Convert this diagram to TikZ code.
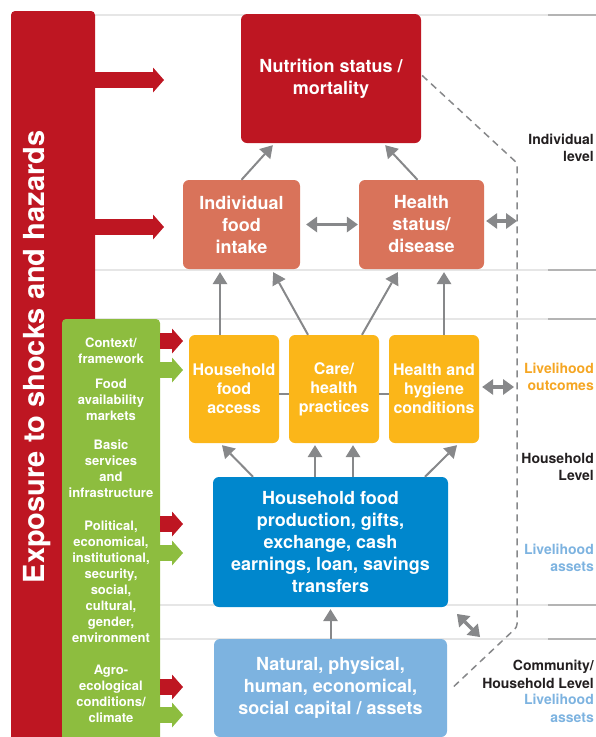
\documentclass[tikz,border=0pt]{standalone}
\usepackage{fontspec}
\setmainfont{TeX Gyre Heros}
\usetikzlibrary{arrows.meta,calc}
\definecolor{darkred}{HTML}{BE1622}
\definecolor{salmon}{HTML}{D9735A}
\definecolor{fyellow}{HTML}{FBB619}
\definecolor{fblue}{HTML}{0087CD}
\definecolor{lblue}{HTML}{7DB3E0}
\definecolor{fgreen}{HTML}{8DBD3F}
\definecolor{fgray}{HTML}{87888A}
\definecolor{forange}{HTML}{F5A623}
\definecolor{lgray}{HTML}{E6E6E6}
\definecolor{mgray}{HTML}{B4B4B4}
\definecolor{ftext}{HTML}{231F20}
\begin{document}
\begin{tikzpicture}[x=1pt, y=-1pt,
    mbox/.style = {rounded corners=6pt,
                   inner sep=0pt,
                   align=center,
                   text=white,
                   font=\bfseries\fontsize{18}{22}\selectfont},
    ybox/.style = {mbox, fill=fyellow,
                   minimum width=90pt,
                   minimum height=108pt,
                   font=\bfseries\fontsize{16}{19}\selectfont},
    gtext/.style = {align=center, text=white, inner sep=0pt,
                    font=\bfseries\fontsize{13}{16}\selectfont},
    ltext/.style = {anchor=east, align=right, inner sep=0pt, text=ftext,
                    font=\bfseries\fontsize{14}{17.5}\selectfont},
    garr/.style = {draw=fgray, line width=2pt,
                   -{Triangle[length=12pt,width=15pt,line width=0pt]}},
    darr/.style = {draw=fgray, line width=3.5pt,
                   {Triangle[length=11pt,width=16pt,line width=0pt]}-{Triangle[length=11pt,width=16pt,line width=0pt]}},
    redarr/.style = {draw=darkred, line width=16pt,
                     -{Triangle[length=11pt,width=25pt,line width=0pt]}},
    grnarr/.style = {redarr, draw=fgreen},
    dline/.style = {draw=fgray, line width=1.5pt, dash pattern=on 7pt off 5pt,
                    rounded corners=3pt},
    band/.style = {line width=1.5pt}]
    \useasboundingbox (0,0) rectangle (596,737);
    \clip (0,0) rectangle (596,737);
    % level bands
    \foreach \y in {15,270,319,605,639} {
        \draw[band, draw=lgray] (95,\y) -- (548,\y);
        \draw[band, draw=mgray] (548,\y) -- (596,\y);
    }
    % exposure bar and context box
    \node[fill=darkred, rounded corners=4pt, inner sep=0pt,
          minimum width=84pt, minimum height=740pt] (bar) at (53,381) {};
    \node[rotate=90, text=white, inner sep=0pt,
          font=\bfseries\fontsize{29}{32}\selectfont] (expo) at (37,357) {Exposure to shocks and hazards};
    \node[fill=fgreen, rounded corners=4pt, inner sep=0pt,
          minimum width=98pt, minimum height=432pt] (ctx) at (111,535) {};
    \node[gtext] (g1) at (111,350.5) {Context/\\framework};
    \node[gtext] (g2) at (111,400) {Food\\availability\\markets};
    \node[gtext] (g3) at (111,469) {Basic\\services\\and\\infrastructure};
    \node[gtext] (g4) at (111,582) {Political,\\economical,\\institutional,\\security,\\social,\\cultural,\\gender,\\environment};
    \node[gtext] (g5) at (111,694) {Agro-\\ecological\\conditions/\\climate};
    % boxes
    \node[mbox, fill=darkred, minimum width=180pt, minimum height=129pt] (nut) at (331,78.5) {Nutrition status /\\mortality};
    \node[mbox, fill=salmon, minimum width=117pt, minimum height=89pt] (intake) at (241.5,224.5) {Individual\\food\\intake};
    \node[mbox, fill=salmon, minimum width=125pt, minimum height=89pt] (health) at (421.5,224.5) {Health\\status/\\disease};
    \node[ybox] (hfa) at (234,389) {Household\\food\\access};
    \node[ybox] (care) at (334,389) {Care/\\health\\practices};
    \node[ybox] (hyg) at (434,389) {Health and\\hygiene\\conditions};
    \node[mbox, fill=fblue, minimum width=235pt, minimum height=130pt] (prod) at (330.5,542) {Household food\\production, gifts,\\exchange, cash\\earnings, loan, savings\\transfers};
    \node[mbox, fill=lblue, minimum width=233pt, minimum height=98pt] (cap) at (330.5,688) {Natural, physical,\\human, economical,\\social capital / assets};
    % level labels
    \node[ltext] (lind) at (594,148) {Individual\\level};
    \node[ltext, text=forange] (lout) at (594,377) {Livelihood\\outcomes};
    \node[ltext] (lhh) at (594,467) {Household\\Level};
    \node[ltext, text=lblue] (lass) at (594,558) {Livelihood\\assets};
    \node[ltext] (lcom) at (594,674.5) {Community/\\Household Level};
    \node[ltext, text=lblue] (lass2) at (594,708.5) {Livelihood\\assets};
    % arrow ends
    \coordinate (r1) at (164,80);
    \coordinate (r2) at (164,227);
    \coordinate (a1) at (183,341);
    \coordinate (a2) at (183,370);
    \coordinate (a3) at (183,524);
    \coordinate (a4) at (183,553);
    \coordinate (a5) at (183,687);
    \coordinate (a6) at (183,715);
    \coordinate (dtop) at (517,163);
    \coordinate (dbot) at (517,627);
    \coordinate (d1) at (517,221);
    \coordinate (d2) at (517,387);
    \coordinate (p1) at (457,614);
    \coordinate (p2) at (480,637);
    % shocks and context
    \draw[redarr] (bar.east |- r1) -- (r1);
    \draw[redarr] (bar.east |- r2) -- (r2);
    \draw[redarr] (ctx.east |- a1) -- (a1);
    \draw[grnarr] (ctx.east |- a2) -- (a2);
    \draw[redarr] (ctx.east |- a3) -- (a3);
    \draw[grnarr] (ctx.east |- a4) -- (a4);
    \draw[redarr] (ctx.east |- a5) -- (a5);
    \draw[grnarr] (ctx.east |- a6) -- (a6);
    % causal links
    \draw[garr] (intake.north) -- ($(nut.south west)+(32,2)$);
    \draw[garr] ($(health.north)+(-4,0)$) -- ($(nut.south east)+(-36,2)$);
    \draw[garr] ($(hfa.north)+(-14,0)$) -- ($(hfa.north |- intake.south)+(-14,3)$);
    \draw[garr] ($(care.north)+(-26,0)$) -- ($(intake.south east)+(-27,3)$);
    \draw[garr] ($(care.north)+(28,0)$) -- ($(health.south west)+(39,3)$);
    \draw[garr] ($(hyg.north)+(10,0)$) -- ($(hyg.north |- health.south)+(10,3)$);
    \draw[fgray, line width=1.5pt] ($(hfa.east)+(0,5)$) -- ($(care.west)+(0,5)$);
    \draw[fgray, line width=1.5pt] ($(care.east)+(0,5)$) -- ($(hyg.west)+(0,5)$);
    \draw[garr] ($(prod.north)+(-77.5,0)$) -- ($(hfa.south)+(-12,2)$);
    \draw[garr] ($(prod.north -| care.south)+(-19,0)$) -- ($(care.south)+(-19,2)$);
    \draw[garr] ($(prod.north -| care.south)+(19,0)$) -- ($(care.south)+(19,2)$);
    \draw[garr] ($(prod.north)+(94.5,0)$) -- ($(hyg.south)+(23,2)$);
    \draw[garr] (cap.north) -- ($(prod.south)+(0,2)$);
    % two-way links
    \draw[darr, shorten <=6pt, shorten >=1pt] (intake) -- (health);
    \draw[darr, shorten <=2pt] (health.east |- d1) -- (d1);
    \draw[darr, shorten <=3pt, shorten >=3pt] (hyg.east |- d2) -- (d2);
    \draw[darr] (p1) -- (p2);
    % level border
    \draw[dline] ($(nut.east)+(1,-3)$) -- (dtop) -- (dbot) -- ($(cap.east)+(5,0)$);
\end{tikzpicture}
\end{document}
